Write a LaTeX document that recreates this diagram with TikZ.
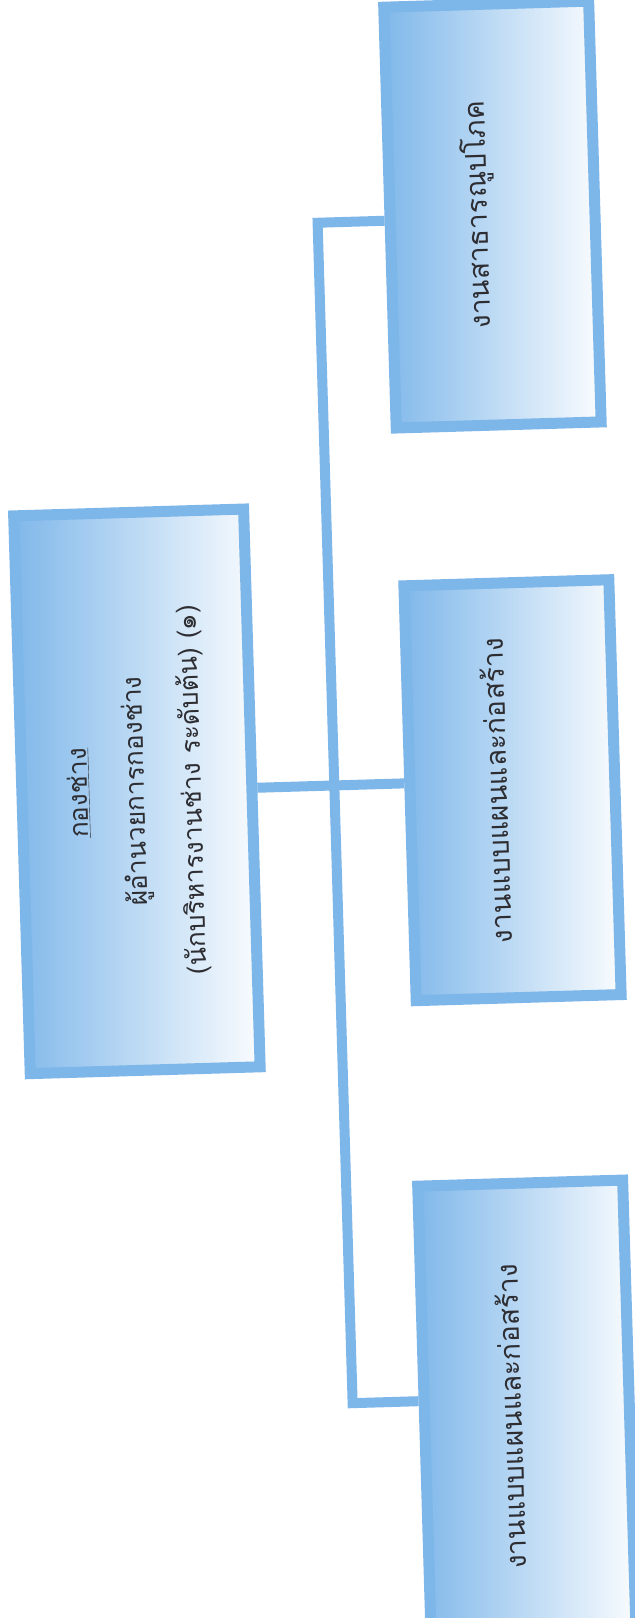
\documentclass[tikz,border=0pt]{standalone}
\usepackage{fontspec}
\usetikzlibrary{calc}
\newfontfamily\thai[Script=Thai]{Loma}
\definecolor{boxblue}{RGB}{125,182,232}
\definecolor{fillblue}{RGB}{128,184,234}
\definecolor{inktext}{RGB}{45,45,50}
\newcommand{\liftup}[1]{\raisebox{5bp}[0pt][0pt]{#1}}
\begin{document}
\begin{tikzpicture}[x=1bp,y=-1bp,
  box/.style={draw=boxblue, line width=11bp, left color=fillblue, middle color=fillblue!35, right color=white!96!fillblue,
    rotate=90, minimum width=415bp, minimum height=205bp, align=center, inner sep=0pt,
    text=inktext, font=\thai\fontsize{28.5}{57}\selectfont},
  conn/.style={draw=boxblue, line width=10bp, line join=miter}]
\useasboundingbox[fill=white] (0,0) rectangle (635,1618);
\begin{scope}[rotate around={1.7:(317,809)}, transform shape]
  \node[box, minimum width=558bp, minimum height=230bp, font=\thai\fontsize{26.5}{57}\selectfont] (main) at (137.5,786)
    {\underline{กองช่าง}\\ผู้อำนวยการกองช่าง\\(นักบริหารงานช่าง ระดับต้น) (๑)};
  \node[box, minimum width=421bp] (b1) at (510,220) {\liftup{งานสาธารณูปโภค}};
  \node[box] (b2) at (513,796) {\liftup{งานแบบแผนและก่อสร้าง}};
  \node[box, minimum width=466bp] (b3) at (509,1422) {\liftup{งานแบบแผนและก่อสร้าง}};
  \coordinate (j1) at (335,223);
  \coordinate (j3) at (335,1404);
  \coordinate (m2) at ($(b2.north)!(main.south)!(b2.north west)$);
  \draw[conn] ($(b1.north)!(j1)!(b1.north west)$) -- (j1) -- (j3) -- ($(b3.north)!(j3)!(b3.north west)$);
  \draw[conn] (main.south) -- (m2);
\end{scope}
\end{tikzpicture}
\end{document}
